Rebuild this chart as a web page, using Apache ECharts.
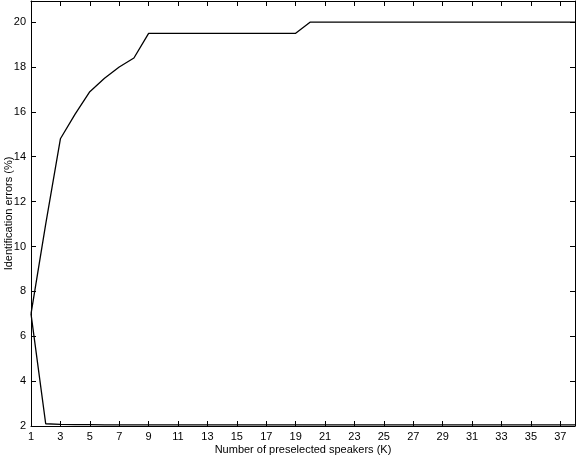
<!DOCTYPE html>
<html>
<head>
<meta charset="utf-8">
<script src="https://cdn.jsdelivr.net/npm/echarts@6/dist/echarts.min.js"></script>
<style>
  html, body { margin: 0; padding: 0; background: #fff; }
  #chart { width: 576px; height: 458px; }
</style>
</head>
<body>
<div id="chart"></div>
<script>
// K values (number of preselected speakers)
const speakers = [1, 2, 3, 4, 5, 6, 7, 8, 9, 10, 11, 12, 13, 14, 15, 16, 17, 18, 19, 20,
  21, 22, 23, 24, 25, 26, 27, 28, 29, 30, 31, 32, 33, 34, 35, 36, 37, 38]
const upperErrors = [7.0, 11.0, 14.8, 15.9, 16.9, 17.5, 18.0, 18.4, 19.5, 19.5, 19.5, 19.5, 19.5, 19.5, 19.5, 19.5, 19.5, 19.5, 19.5, 20.0,
  20.0, 20.0, 20.0, 20.0, 20.0, 20.0, 20.0, 20.0, 20.0, 20.0, 20.0, 20.0, 20.0, 20.0, 20.0, 20.0, 20.0, 20.0]
const lowerErrors = [7.0, 2.1, 2.07, 2.06, 2.06, 2.05, 2.05, 2.05, 2.05, 2.05, 2.05, 2.05, 2.05, 2.05, 2.05, 2.05, 2.05, 2.05, 2.05, 2.05,
  2.05, 2.05, 2.05, 2.05, 2.05, 2.05, 2.05, 2.05, 2.05, 2.05, 2.05, 2.05, 2.05, 2.05, 2.05, 2.05, 2.05, 2.05]

const font = 'Liberation Sans, Arial, sans-serif'
const chart = echarts.init(document.getElementById('chart'))

const axisLine = { show: true, lineStyle: { color: '#000', width: 1 } }
const tick = { show: true, inside: true, length: 5, lineStyle: { color: '#000' } }
const label = { color: '#000', fontFamily: font, fontSize: 11, showMaxLabel: false }

const toPairs = (ys) => speakers.map((x, i) => [x, ys[i]])

chart.setOption({
  animation: false,
  grid: { left: 31, right: 1, top: 1, bottom: 32, containLabel: false, outerBoundsMode: 'none' },
  xAxis: [
    {
      type: 'value', min: 1, max: 38, interval: 2, position: 'bottom',
      axisLine, axisTick: tick, splitLine: { show: false },
      axisLabel: { ...label, margin: 5 },
      name: 'Number of preselected speakers (K)', nameLocation: 'middle', nameGap: 18,
      nameMoveOverlap: false,
      nameTextStyle: { color: '#000', fontFamily: font, fontSize: 11 }
    },
    {
      type: 'value', min: 1, max: 38, interval: 2, position: 'top',
      axisLine, axisTick: tick, splitLine: { show: false }, axisLabel: { show: false }
    }
  ],
  yAxis: [
    {
      type: 'value', min: 2, max: 20.94, interval: 2, position: 'left',
      axisLine, axisTick: tick, splitLine: { show: false },
      axisLabel: { ...label, margin: 5 },
      name: 'Identification errors (%)', nameLocation: 'middle', nameGap: 17,
      nameMoveOverlap: false,
      nameTextStyle: { color: '#000', fontFamily: font, fontSize: 11 }
    },
    {
      type: 'value', min: 2, max: 20.94, interval: 2, position: 'right',
      axisLine, axisTick: tick, splitLine: { show: false }, axisLabel: { show: false }
    }
  ],
  series: [
    {
      type: 'line', data: toPairs(upperErrors), showSymbol: false,
      lineStyle: { color: '#000', width: 1.3 }
    },
    {
      type: 'line', data: toPairs(lowerErrors), showSymbol: false,
      lineStyle: { color: '#000', width: 1.3 }
    }
  ]
})
</script>
</body>
</html>
